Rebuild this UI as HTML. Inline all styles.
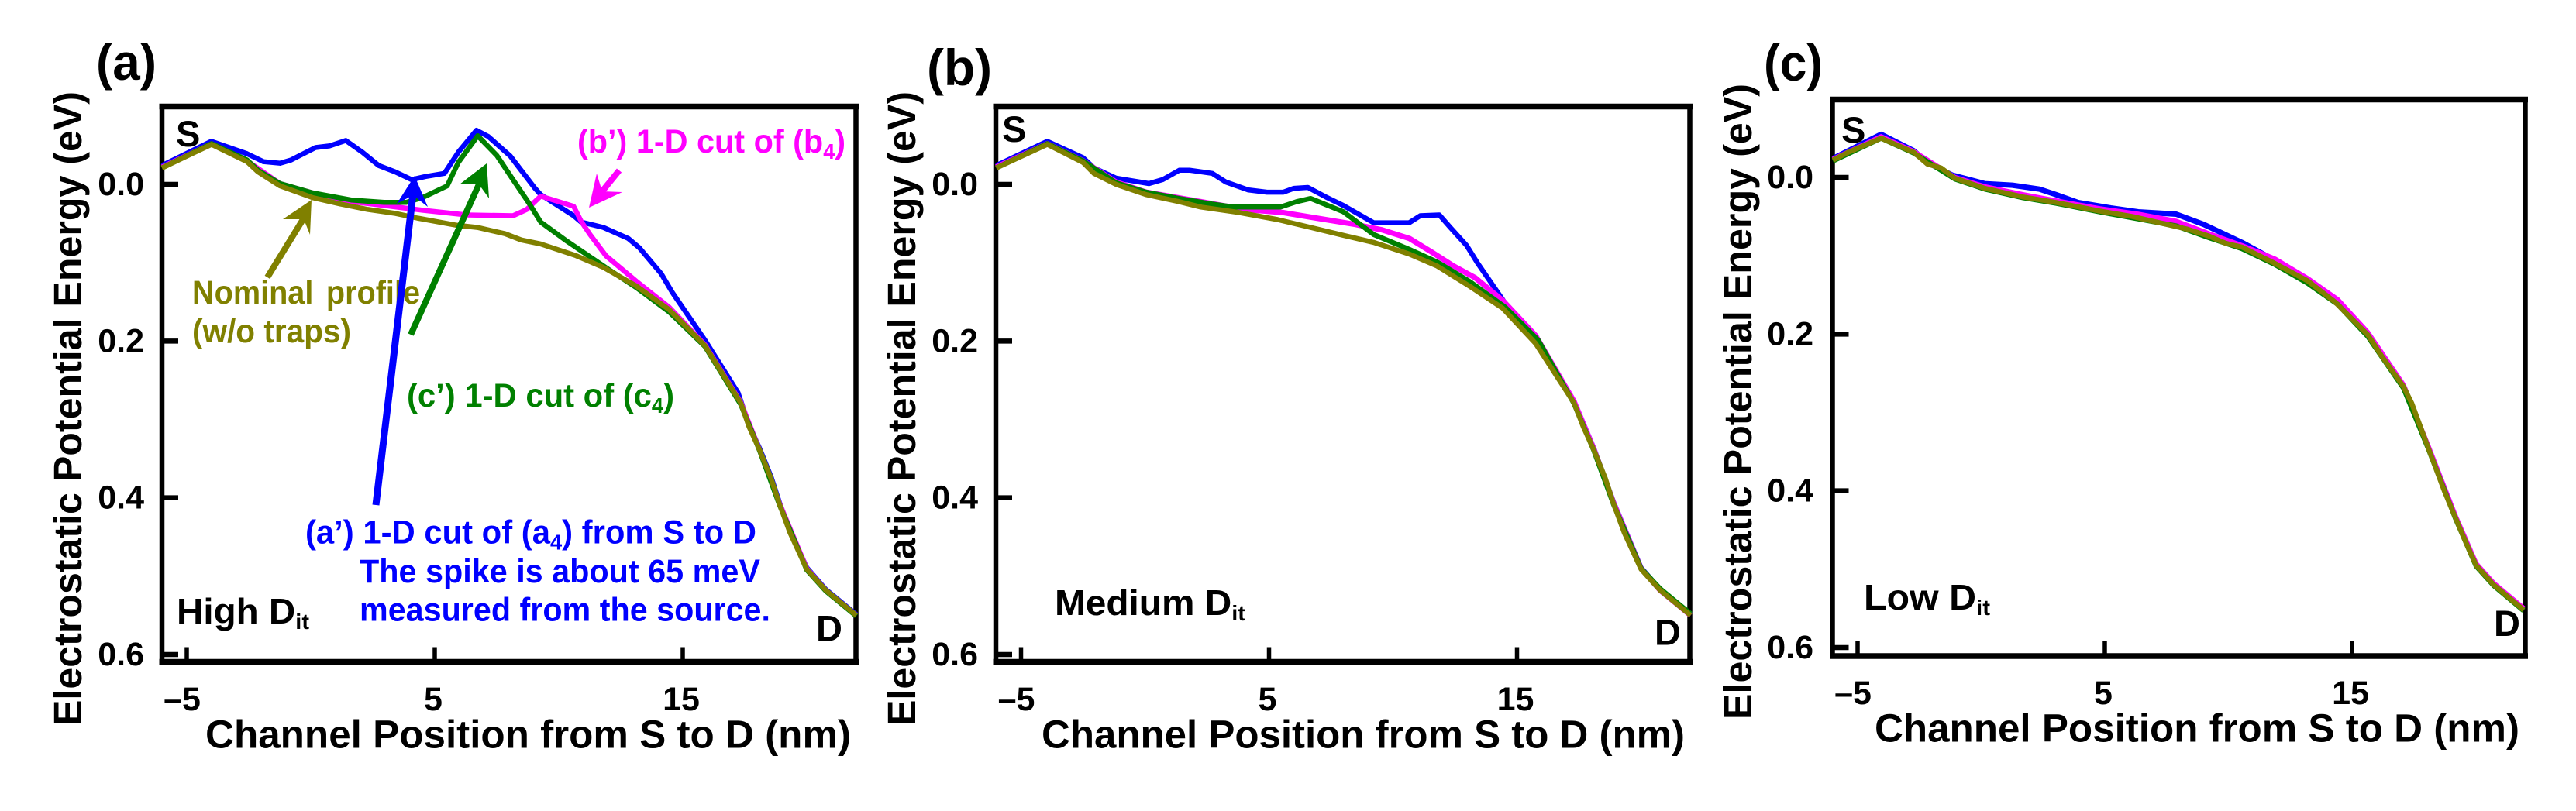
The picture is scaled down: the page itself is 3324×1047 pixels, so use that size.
<!DOCTYPE html>
<html lang="en">
<head>
<meta charset="utf-8">
<title>Electrostatic potential energy profiles for high, medium and low Dit</title>
<style>
html,body{margin:0;padding:0;background:#fff;width:3324px;height:1047px;overflow:hidden}
svg{display:block}
text{font-family:"Liberation Sans",Arial,sans-serif;font-weight:700}
</style>
</head>
<body>
<svg id="figure" xmlns="http://www.w3.org/2000/svg" width="3324" height="1047" viewBox="0 0 3324 1047">
<rect width="3324" height="1047" fill="#fff"/>
<g id="panels"></g>

<!-- panel labels -->
<text x="124" y="103" font-size="66" textLength="78" lengthAdjust="spacingAndGlyphs">(a)</text>
<text x="1196" y="110" font-size="66" textLength="84" lengthAdjust="spacingAndGlyphs">(b)</text>
<text x="2276" y="104" font-size="66" textLength="76" lengthAdjust="spacingAndGlyphs">(c)</text>

<!-- axis titles -->
<text transform="translate(105,937) rotate(-90)" font-size="51" textLength="819" lengthAdjust="spacingAndGlyphs">Electrostatic Potential Energy (eV)</text>
<text transform="translate(1181,937) rotate(-90)" font-size="51" textLength="819" lengthAdjust="spacingAndGlyphs">Electrostatic Potential Energy (eV)</text>
<text transform="translate(2260,929) rotate(-90)" font-size="51" textLength="821" lengthAdjust="spacingAndGlyphs">Electrostatic Potential Energy (eV)</text>
<text x="265" y="965.5" font-size="51" textLength="833" lengthAdjust="spacingAndGlyphs">Channel Position from S to D (nm)</text>
<text x="1344" y="965.5" font-size="51" textLength="830" lengthAdjust="spacingAndGlyphs">Channel Position from S to D (nm)</text>
<text x="2419" y="957.5" font-size="51" textLength="832" lengthAdjust="spacingAndGlyphs">Channel Position from S to D (nm)</text>

<!-- source / drain markers -->
<text x="227" y="189" font-size="47">S</text>
<text x="1293" y="183" font-size="47">S</text>
<text x="2376" y="184" font-size="47">S</text>
<text x="1053" y="827.5" font-size="47">D</text>
<text x="2135" y="832.5" font-size="47">D</text>
<text x="3218" y="821" font-size="47">D</text>

<!-- Dit labels -->
<text x="228" y="805" font-size="46" textLength="171" lengthAdjust="spacingAndGlyphs">High D<tspan dy="7" font-size="28">it</tspan></text>
<text x="1361" y="794" font-size="46" textLength="246" lengthAdjust="spacingAndGlyphs">Medium D<tspan dy="7" font-size="28">it</tspan></text>
<text x="2405" y="787" font-size="46" textLength="163" lengthAdjust="spacingAndGlyphs">Low D<tspan dy="7" font-size="28">it</tspan></text>

<!-- annotations, panel a -->
<g fill="#808000">
<text x="248" y="392" font-size="43" word-spacing="6" textLength="294" lengthAdjust="spacingAndGlyphs">Nominal profile</text>
<text x="248" y="442" font-size="43" textLength="205" lengthAdjust="spacingAndGlyphs">(w/o traps)</text>
</g>
<g fill="#0000ff">
<text x="394" y="701.5" font-size="43" textLength="582" lengthAdjust="spacingAndGlyphs">(a’) 1-D cut of (a<tspan dy="8" font-size="28">4</tspan><tspan dy="-8">) from S to D</tspan></text>
<text x="464" y="752" font-size="43" textLength="517" lengthAdjust="spacingAndGlyphs">The spike is about 65 meV</text>
<text x="464" y="801.5" font-size="43" textLength="530" lengthAdjust="spacingAndGlyphs">measured from the source.</text>
</g>
<text x="525" y="525" font-size="43" fill="#008000" textLength="345" lengthAdjust="spacingAndGlyphs">(c’) 1-D cut of (c<tspan dy="8" font-size="28">4</tspan><tspan dy="-8">)</tspan></text>
<text x="745" y="197" font-size="43" fill="#ff00ff" textLength="346" lengthAdjust="spacingAndGlyphs">(b’) 1-D cut of (b<tspan dy="8" font-size="28">4</tspan><tspan dy="-8">)</tspan></text>

<!-- annotation arrows, panel a -->
<g fill="#808000" stroke="#808000">
<line x1="345" y1="358" x2="393" y2="280" stroke-width="8"/>
<polygon stroke="none" points="402,258 400,303 392,283 365,283"/>
</g>
<g fill="#0000ff" stroke="#0000ff">
<line x1="485" y1="652" x2="533" y2="250" stroke-width="9"/>
<polygon stroke="none" points="535,227 552,267 533,252 512,263"/>
</g>
<g fill="#008000" stroke="#008000">
<line x1="530" y1="432" x2="618" y2="238" stroke-width="8"/>
<polygon stroke="none" points="628,211 631,256 618,238 593,238"/>
</g>
<g fill="#ff00ff" stroke="#ff00ff">
<line x1="799" y1="220" x2="777" y2="247" stroke-width="8"/>
<polygon stroke="none" points="760,268 770,224 777,247 803,248"/>
</g>
</svg>

<script>
// Shared axis ticks
const xTickValues = [-5, 5, 15];
const xTickLabels = ['\u20135', '5', '15'];
const yTickValues = [0, 0.2, 0.4, 0.6];
const yTickLabels = ['0.0', '0.2', '0.4', '0.6'];

// Panel (a) High Dit
const aNominalX = [-6, -4, -2.57, -2.13, -1.24, 0.08, 1.19, 2.3, 3.4, 4.29, 5.84, 6.72, 7.83, 8.49, 9.27, 10.7, 11.8, 13.14, 14.46, 15.9, 17.34, 17.67, 18.1, 18.56, 18.9, 19.33, 20, 20.77, 22];
const aNominalY = [-0.021, -0.051, -0.029, -0.016, 0.002, 0.017, 0.025, 0.032, 0.037, 0.043, 0.052, 0.055, 0.063, 0.071, 0.076, 0.091, 0.106, 0.13, 0.16, 0.206, 0.279, 0.309, 0.339, 0.375, 0.408, 0.445, 0.491, 0.518, 0.55];
const aBlueX = [-6, -4.01, -2.57, -1.91, -1.24, -0.8, 0.19, 0.75, 1.41, 2.08, 2.74, 3.4, 4.07, 4.62, 5.39, 5.95, 6.68, 7.16, 8.05, 9.04, 9.27, 10.6, 10.9, 11.8, 12.8, 13.25, 14.13, 14.58, 15.9, 17.23, 17.67, 18.1, 18.56, 18.9, 19.33, 20, 20.77, 22];
const aBlueY = [-0.024, -0.055, -0.039, -0.029, -0.027, -0.031, -0.047, -0.049, -0.056, -0.041, -0.024, -0.016, -0.006, -0.01, -0.014, -0.041, -0.069, -0.061, -0.036, 0.005, 0.013, 0.04, 0.048, 0.055, 0.069, 0.081, 0.114, 0.138, 0.199, 0.266, 0.307, 0.337, 0.373, 0.406, 0.443, 0.489, 0.517, 0.549];
const aMagentaX = [-6, -4, -2.57, -1.24, 0.08, 1.63, 2.96, 4.5, 6.28, 8.16, 8.71, 9.27, 10.6, 10.92, 11.26, 11.9, 13.14, 14.46, 15.9, 17.34, 18.1, 18.9, 20, 20.77, 22];
const aMagentaY = [-0.022, -0.052, -0.03, -0.001, 0.011, 0.022, 0.027, 0.033, 0.039, 0.04, 0.032, 0.015, 0.028, 0.048, 0.064, 0.091, 0.124, 0.157, 0.205, 0.278, 0.339, 0.407, 0.49, 0.518, 0.55];
const aGreenX = [-6, -4, -2.57, -2.13, -1.24, 0.08, 1.63, 2.96, 3.85, 4.5, 5.5, 5.95, 6.73, 7.5, 8.05, 8.82, 9.27, 10.26, 11.47, 12.03, 13.14, 14.46, 15.9, 17.34, 18.1, 18.9, 20, 20.77, 22];
const aGreenY = [-0.021, -0.052, -0.031, -0.018, -0.001, 0.011, 0.02, 0.023, 0.023, 0.017, 0.002, -0.028, -0.062, -0.037, -0.011, 0.025, 0.048, 0.071, 0.097, 0.109, 0.132, 0.163, 0.207, 0.281, 0.34, 0.409, 0.492, 0.519, 0.551];

// Panel (b) Medium Dit
const bNominalX = [-6, -3.94, -2.5, -2.06, -1.17, 0.04, 1.37, 2.25, 3.8, 5.35, 6.68, 8, 9.22, 10.66, 11.77, 13.09, 14.42, 15.75, 17.3, 17.67, 18.1, 18.56, 18.9, 19.33, 20, 20.77, 22];
const bNominalY = [-0.021, -0.051, -0.028, -0.014, 0, 0.013, 0.022, 0.029, 0.036, 0.045, 0.055, 0.065, 0.074, 0.089, 0.104, 0.13, 0.158, 0.203, 0.279, 0.309, 0.339, 0.375, 0.408, 0.445, 0.491, 0.518, 0.55];
const bBlueX = [-6, -3.94, -2.5, -2.06, -1.17, 0.16, 0.71, 1.38, 1.82, 2.71, 3.26, 4.15, 4.92, 5.58, 6.01, 6.57, 7.35, 8, 9.22, 10.65, 11.1, 11.87, 12.31, 12.97, 13.4, 14.53, 15.75, 17.3, 18.1, 18.9, 20, 20.77, 22];
const bBlueY = [-0.024, -0.055, -0.034, -0.021, -0.008, -0.001, -0.006, -0.018, -0.018, -0.014, -0.003, 0.007, 0.01, 0.01, 0.005, 0.004, 0.017, 0.027, 0.049, 0.049, 0.04, 0.039, 0.055, 0.078, 0.1, 0.152, 0.199, 0.277, 0.337, 0.406, 0.489, 0.517, 0.549];
const bMagentaX = [-6, -3.94, -2.5, -1.17, 0.04, 2.25, 4.02, 5.57, 6.9, 8.45, 9.55, 10.66, 11.54, 12.43, 13.31, 14.42, 15.75, 17.3, 18.1, 18.9, 20, 20.77, 22];
const bMagentaY = [-0.022, -0.052, -0.03, -0.003, 0.01, 0.022, 0.032, 0.036, 0.043, 0.051, 0.058, 0.069, 0.086, 0.104, 0.119, 0.148, 0.193, 0.277, 0.338, 0.407, 0.49, 0.518, 0.55];
const bGreenX = [-6, -3.94, -2.5, -1.17, 0.04, 1.37, 2.69, 3.58, 5.46, 6.12, 6.68, 8, 9.22, 10.66, 11.77, 13.09, 14.53, 15.86, 17.3, 18.1, 18.9, 20, 20.77, 22];
const bGreenY = [-0.021, -0.052, -0.03, -0.002, 0.01, 0.018, 0.025, 0.029, 0.029, 0.022, 0.018, 0.035, 0.064, 0.083, 0.099, 0.124, 0.157, 0.199, 0.28, 0.34, 0.409, 0.49, 0.516, 0.548];

// Panel (c) Low Dit
const cNominalX = [-6, -5.38, -4.05, -2.73, -2.18, -1.62, -1.07, 0.15, 1.7, 3.03, 4.8, 6.12, 7.23, 8.34, 9.22, 9.88, 10.55, 11.77, 13.2, 14.31, 15.64, 16.2, 17.08, 17.41, 18.07, 18.73, 19.18, 19.62, 20.02, 20.73, 21.94];
const cNominalY = [-0.022, -0.032, -0.05, -0.032, -0.017, -0.012, 0.001, 0.014, 0.025, 0.032, 0.043, 0.05, 0.058, 0.066, 0.075, 0.084, 0.089, 0.108, 0.132, 0.159, 0.201, 0.228, 0.267, 0.288, 0.344, 0.4, 0.434, 0.467, 0.495, 0.52, 0.552];
const cBlueX = [-6, -4.05, -2.73, -2.18, -1.18, 0.15, 1.26, 2.36, 3.03, 3.92, 5.24, 6.35, 7.89, 9, 10.55, 11.77, 13.2, 14.31, 15.64, 17.08, 18.07, 19.18, 20.02, 20.73, 21.94];
const cBlueY = [-0.024, -0.055, -0.034, -0.019, -0.003, 0.008, 0.01, 0.015, 0.022, 0.032, 0.039, 0.044, 0.047, 0.06, 0.083, 0.104, 0.13, 0.157, 0.2, 0.266, 0.343, 0.433, 0.494, 0.519, 0.551];
const cMagentaX = [-6, -4.05, -2.73, -1.07, 0.15, 1.7, 3.03, 4.8, 6.35, 7.89, 9.22, 10.55, 11.87, 13.2, 14.42, 15.64, 17.08, 18.07, 19.18, 20.02, 20.73, 21.94];
const cMagentaY = [-0.023, -0.052, -0.033, 0, 0.012, 0.022, 0.03, 0.04, 0.047, 0.056, 0.072, 0.087, 0.104, 0.129, 0.156, 0.198, 0.265, 0.342, 0.432, 0.493, 0.518, 0.55];
const cGreenX = [-6, -4.05, -2.73, -1.07, 0.15, 1.7, 3.03, 4.8, 6.35, 7.89, 9.22, 10.55, 11.87, 13.2, 14.42, 15.64, 17.08, 18.07, 19.18, 20.02, 20.73, 21.94];
const cGreenY = [-0.021, -0.05, -0.031, 0.002, 0.015, 0.026, 0.033, 0.044, 0.053, 0.062, 0.077, 0.091, 0.111, 0.135, 0.162, 0.203, 0.269, 0.345, 0.435, 0.496, 0.521, 0.553];

const SVG_NS = 'http://www.w3.org/2000/svg';
const root = document.getElementById('panels');

function make(tag, attrs, parent) {
  const el = document.createElementNS(SVG_NS, tag);
  for (const k in attrs) el.setAttribute(k, attrs[k]);
  parent.appendChild(el);
  return el;
}

function drawPanel(layout, traces) {
  const xAt = v => layout.xOrigin + (v + 5) * layout.pxPerNm;
  const yAt = v => layout.yOrigin + v * layout.pxPerEv;
  const g = make('g', {}, root);
  
  

  const frame = make('g', { stroke: '#000', 'stroke-linecap': 'butt' }, g);
  
  
  const L = layout.left, R = layout.right, T = layout.top, B = layout.bottom;
  const box = make('rect', { x: L, y: T, width: R - L, height: B - T, fill: 'none', 'stroke-width': 0 }, frame);
  
  
  const edgeTop = make('line', { x1: L - 3.5, x2: R + 3.5, y1: T, y2: T, 'stroke-width': 7.5 }, frame);
  
  
  const edgeBottom = make('line', { x1: L - 3.5, x2: R + 3.5, y1: B, y2: B, 'stroke-width': 7.5 }, frame);
  
  
  const edgeLeft = make('line', { x1: L, x2: L, y1: T, y2: B, 'stroke-width': 6.5 }, frame);
  
  
  const edgeRight = make('line', { x1: R, x2: R, y1: T, y2: B, 'stroke-width': 6.5 }, frame);
  
  

  xTickValues.forEach((v, i) => {
    const tick = make('line', { x1: xAt(v), x2: xAt(v), y1: B, y2: B - 19, 'stroke-width': 5.5 }, frame);
    
    
    const label = make('text', { x: xAt(v) + (v < 0 ? -6 : -2), y: layout.xLabelBaseline, 'font-size': 43, 'text-anchor': 'middle' }, g);
    
    
    label.textContent = xTickLabels[i];
  });
  yTickValues.forEach((v, i) => {
    const tick = make('line', { x1: L, x2: L + 21, y1: yAt(v), y2: yAt(v), 'stroke-width': 6.5 }, frame);
    
    
    const label = make('text', { x: layout.yLabelRight, y: yAt(v) + 14, 'font-size': 43, 'text-anchor': 'end' }, g);
    
    
    label.textContent = yTickLabels[i];
  });

  traces.forEach(t => {
    const d = t.xs.map((x, i) => (i ? 'L' : 'M') + xAt(x).toFixed(1) + ' ' + yAt(t.ys[i]).toFixed(1)).join(' ');
    const path = make('path', { d: d, fill: 'none', stroke: t.color, 'stroke-width': t.width, 'stroke-linejoin': 'round', 'stroke-linecap': 'butt' }, g);
    
    
  });
}

drawPanel(
  { id: 'a', left: 209, right: 1104.5, top: 137.5, bottom: 854.5, xOrigin: 241, pxPerNm: 32, yOrigin: 238, pxPerEv: 1011.6, xLabelBaseline: 917, yLabelRight: 186 },
  [
    { name: 'a-prime-blue', color: '#0000ff', width: 6.5, xs: aBlueX, ys: aBlueY },
    { name: 'b-prime-magenta', color: '#ff00ff', width: 6.5, xs: aMagentaX, ys: aMagentaY },
    { name: 'c-prime-green', color: '#008000', width: 6.5, xs: aGreenX, ys: aGreenY },
    { name: 'nominal-olive', color: '#808000', width: 6.5, xs: aNominalX, ys: aNominalY }
  ]
);
drawPanel(
  { id: 'b', left: 1285, right: 2180.5, top: 137.5, bottom: 854.5, xOrigin: 1317.5, pxPerNm: 32, yOrigin: 238, pxPerEv: 1011.6, xLabelBaseline: 917, yLabelRight: 1262 },
  [
    { name: 'a-prime-blue', color: '#0000ff', width: 6.5, xs: bBlueX, ys: bBlueY },
    { name: 'b-prime-magenta', color: '#ff00ff', width: 7, xs: bMagentaX, ys: bMagentaY },
    { name: 'c-prime-green', color: '#008000', width: 6.5, xs: bGreenX, ys: bGreenY },
    { name: 'nominal-olive', color: '#808000', width: 6.5, xs: bNominalX, ys: bNominalY }
  ]
);
drawPanel(
  { id: 'c', left: 2364.5, right: 3258.5, top: 128.5, bottom: 847, xOrigin: 2397, pxPerNm: 31.9, yOrigin: 229, pxPerEv: 1011.6, xLabelBaseline: 909, yLabelRight: 2340 },
  [
    { name: 'a-prime-blue', color: '#0000ff', width: 7, xs: cBlueX, ys: cBlueY },
    { name: 'b-prime-magenta', color: '#ff00ff', width: 6.5, xs: cMagentaX, ys: cMagentaY },
    { name: 'c-prime-green', color: '#008000', width: 6.5, xs: cGreenX, ys: cGreenY },
    { name: 'nominal-olive', color: '#808000', width: 6.5, xs: cNominalX, ys: cNominalY }
  ]
);
</script>
</body>
</html>
